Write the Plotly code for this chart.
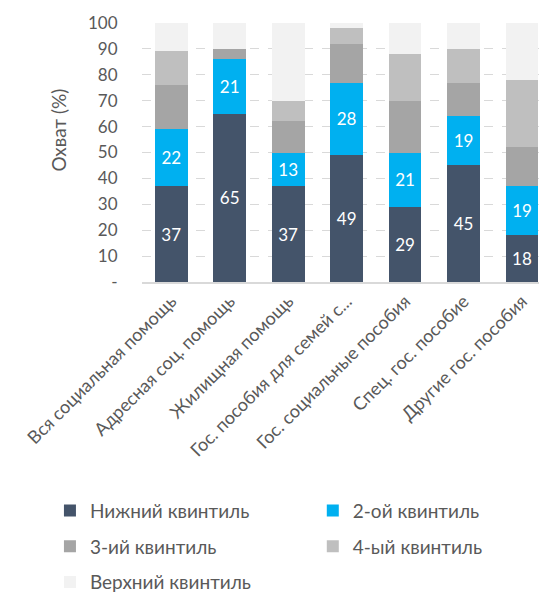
import plotly.graph_objects as go

FONT = "Lato, 'Open Sans', sans-serif"
COLOR_TEXT = "#595959"
COLOR_GRID = "#D9D9D9"

categories = [
    "Вся социальная помощь",
    "Адресная соц. помощь",
    "Жилищная помощь",
    "Гос. пособия для семей с...",
    "Гос. социальные пособия",
    "Спец. гос. пособие",
    "Другие гос. пособия",
]

q1 = [37, 65, 37, 49, 29, 45, 18]
q2 = [22, 21, 13, 28, 21, 19, 19]
q3 = [17, 4, 12, 15, 20, 13, 15]
q4 = [13, 0, 8, 6, 18, 13, 26]
q5 = [11, 10, 30, 2, 12, 10, 22]

# name, values, colour, show value labels, legend column
series = [
    ("Нижний квинтиль", q1, "#44546A", True, "legend"),
    ("2-ой квинтиль", q2, "#00B0F0", True, "legend2"),
    ("3-ий квинтиль", q3, "#A5A5A5", False, "legend"),
    ("4-ый квинтиль", q4, "#BFBFBF", False, "legend2"),
    ("Верхний квинтиль", q5, "#F2F2F2", False, "legend"),
]

y_ticks = list(range(0, 101, 10))
y_ticktext = ["-"] + [str(v) for v in y_ticks[1:]]

fig = go.Figure()
for name, values, color, labelled, legend_id in series:
    fig.add_trace(
        go.Bar(
            x=categories,
            y=values,
            name=name,
            legend=legend_id,
            legendgroup=name,
            marker=dict(color=color, line=dict(width=0)),
            width=0.56,
            texttemplate="%{y:.0f}" if labelled else None,
            textposition="inside" if labelled else "none",
            insidetextanchor="middle",
            textangle=0,
            textfont=dict(family=FONT, size=17, color="white"),
            hovertemplate="%{x}<br>" + name + ": %{y}<extra></extra>",
        )
    )

legend_style = dict(
    orientation="v",
    xref="container",
    yref="container",
    y=0.1775,
    xanchor="left",
    yanchor="top",
    traceorder="grouped",
    tracegroupgap=8,
    bgcolor="rgba(0,0,0,0)",
    font=dict(family=FONT, size=19, color=COLOR_TEXT),
)

# the page body has an 8px margin all round, so keep the figure inside it
fig.update_layout(
    width=531,
    height=588,
    barmode="stack",
    paper_bgcolor="white",
    plot_bgcolor="white",
    margin=dict(l=134, r=0, t=15, b=314, autoexpand=False),
    font=dict(family=FONT, size=16, color=COLOR_TEXT),
    uniformtext=dict(minsize=10, mode="show"),
    legend=dict(legend_style, x=0.079),
    legend2=dict(legend_style, x=0.574),
)
# y-axis title as an annotation (the axis title drifts when automargin is off)
fig.add_annotation(
    text="Охват (%)",
    xref="paper",
    yref="paper",
    x=-0.244,
    y=0.587,
    textangle=-90,
    showarrow=False,
    font=dict(family=FONT, size=19, color=COLOR_TEXT),
)
fig.update_xaxes(
    range=[-0.5, 6.29],
    tickangle=-45,
    tickfont=dict(family=FONT, size=18, color=COLOR_TEXT),
    showline=True,
    linecolor=COLOR_GRID,
    linewidth=1.5,
    showgrid=False,
    automargin=False,
)
fig.update_yaxes(
    range=[0, 100],
    tickvals=y_ticks,
    ticktext=y_ticktext,
    tickfont=dict(family=FONT, size=17, color=COLOR_TEXT),
    ticks="outside",
    ticklen=20,
    tickcolor="rgba(0,0,0,0)",
    showgrid=True,
    gridcolor=COLOR_GRID,
    griddash="dash",
    gridwidth=1,
    zeroline=False,
    automargin=False,
)

fig.write_html("out.html")
